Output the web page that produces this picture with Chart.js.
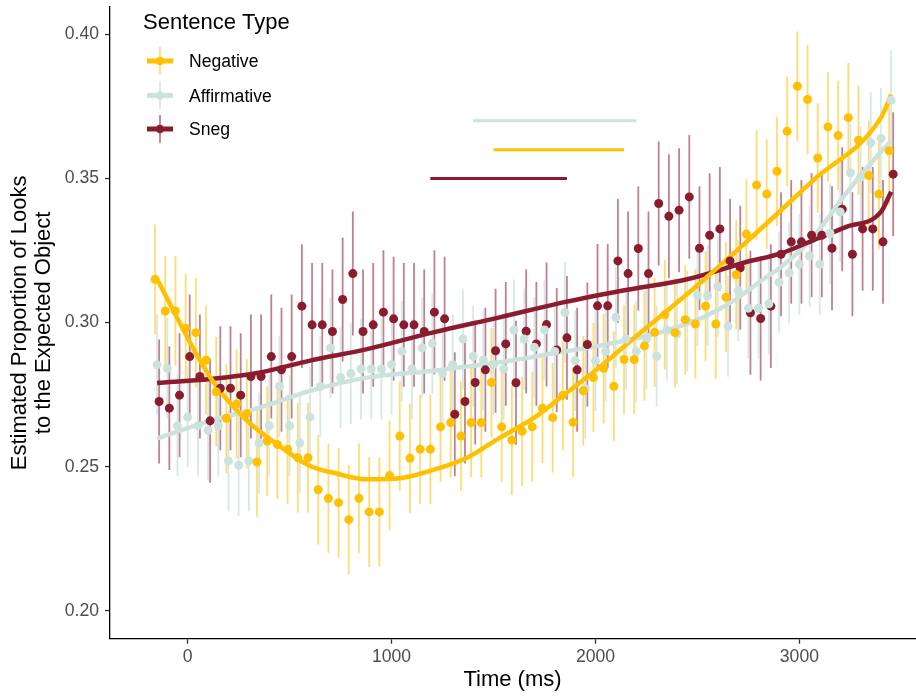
<!DOCTYPE html>
<html>
<head>
<meta charset="utf-8">
<script src="https://cdn.jsdelivr.net/npm/chart.js@4.4.1/dist/chart.umd.min.js"></script>
<style>
html,body{margin:0;padding:0;background:#ffffff;}
#wrap{width:916px;height:696px;}
canvas{display:block;}
</style>
</head>
<body>
<div id="wrap"><canvas id="c" width="916" height="696"></canvas></div>
<script>
// ---------- data ----------
const times = [-150,-100,-50,0,50,100,150,200,250,300,350,400,450,500,550,600,650,700,750,800,850,900,950,1000,1050,1100,1150,1200,1250,1300,1350,1400,1450,1500,1550,1600,1650,1700,1750,1800,1850,1900,1950,2000,2050,2100,2150,2200,2250,2300,2350,2400,2450,2500,2550,2600,2650,2700,2750,2800,2850,2900,2950,3000,3050,3100,3150,3200,3250,3300,3350,3400,3450];

const negative = [0.315,0.304,0.304,0.298,0.2965,0.287,0.276,0.2668,0.2717,0.2684,0.2516,0.2589,0.2577,0.256,0.2531,0.2531,0.242,0.239,0.2375,0.2316,0.239,0.2343,0.2343,0.2469,0.2606,0.2529,0.256,0.256,0.2638,0.2653,0.2606,0.2653,0.2653,0.2792,0.2638,0.2592,0.2623,0.2638,0.2703,0.267,0.2748,0.2654,0.2763,0.2809,0.2841,0.2779,0.2872,0.2872,0.2919,0.2966,0.3027,0.2965,0.301,0.2995,0.3057,0.2995,0.3088,0.3166,0.3307,0.3477,0.3446,0.3525,0.3664,0.382,0.3774,0.3571,0.3679,0.3649,0.3711,0.3633,0.351,0.3446,0.3596];

const affirmative = [0.2853,0.2841,0.2642,0.2672,0.2642,0.2626,0.2642,0.252,0.2505,0.252,0.2582,0.2642,0.2778,0.2642,0.2582,0.2672,0.2778,0.2912,0.2809,0.2823,0.2839,0.2839,0.2839,0.2854,0.29,0.2839,0.2912,0.2928,0.2823,0.2854,0.2943,0.2883,0.287,0.2854,0.2839,0.2974,0.2943,0.2914,0.2974,0.29,0.3035,0.2868,0.277,0.2868,0.29,0.3018,0.2943,0.29,0.2943,0.2883,0.2974,0.2961,0.3005,0.3094,0.3094,0.3125,0.2987,0.3111,0.305,0.305,0.3065,0.314,0.3172,0.3202,0.3231,0.3202,0.3309,0.3384,0.352,0.3505,0.3624,0.3639,0.3771];

const sneg = [0.2726,0.2703,0.2748,0.2882,0.2813,0.2659,0.2772,0.2772,0.2748,0.2813,0.2813,0.2882,0.2836,0.2882,0.3057,0.2992,0.2992,0.2969,0.308,0.317,0.2969,0.2992,0.3036,0.3013,0.2992,0.2992,0.2969,0.3036,0.3013,0.2682,0.2726,0.2792,0.2836,0.2902,0.2926,0.2791,0.297,0.2926,0.2993,0.2905,0.2947,0.2836,0.2924,0.3058,0.3058,0.3214,0.317,0.3257,0.317,0.3413,0.3369,0.339,0.3436,0.3258,0.3303,0.3325,0.3214,0.319,0.3034,0.3014,0.3057,0.3237,0.328,0.328,0.3303,0.3303,0.3258,0.3393,0.3237,0.3325,0.3325,0.328,0.3515];

// half-length of error bars (per series)
const negativeErr = 0.019;
const affirmativeErr = 0.0175;
const snegErr = 0.0215;

// smooth fitted curves
const negFitTimes = [-150,110,275,440,600,720,880,1050,1210,1370,1530,1700,1860,2020,2185,2470,2750,3070,3400,3450];
const negFitValues = [0.315,0.281,0.267,0.2577,0.2502,0.2478,0.2456,0.2461,0.249,0.2531,0.26,0.267,0.2757,0.2845,0.2944,0.3111,0.3286,0.3495,0.3711,0.3791];
const affFitTimes = [-150,110,355,600,880,1205,1530,1810,2020,2185,2350,2530,2680,2840,2905,3070,3230,3400,3450];
const affFitValues = [0.2598,0.2659,0.2705,0.2763,0.2809,0.2833,0.2862,0.2895,0.292,0.2943,0.2973,0.3019,0.3077,0.3159,0.319,0.3298,0.3449,0.3593,0.363];
const snegFitTimes = [-150,110,355,600,880,1205,1530,1810,2135,2460,2740,2905,3070,3230,3400,3450];
const snegFitValues = [0.279,0.2804,0.2827,0.2868,0.2908,0.2966,0.3018,0.3065,0.3111,0.3152,0.321,0.3239,0.3286,0.3332,0.3384,0.3454];

// significance windows
const affSigTimes = [1400, 2200]; const affSigLevel = 0.370;
const negSigTimes = [1500, 2140]; const negSigLevel = 0.360;
const snegSigTimes = [1190, 1860]; const snegSigLevel = 0.350;

const yTicks = [0.20, 0.25, 0.30, 0.35, 0.40];
const xTicks = [0, 1000, 2000, 3000];

// ---------- styles ----------
const FONT = '"Liberation Sans", Arial, Helvetica, sans-serif';
const COL = {
  neg: '#FFC000', negBar: 'rgba(255,192,0,0.55)',
  aff: '#CCE3DD', affBar: 'rgba(204,227,221,0.8)',
  sneg: '#8B1C30', snegBar: 'rgba(139,28,48,0.55)'
};
const DODGE = {neg: -10, aff: 0, sneg: 10};

const seriesList = [
  {key:'sneg', label:'Sneg', values: sneg, err: snegErr, color: COL.sneg, bar: COL.snegBar},
  {key:'aff', label:'Affirmative', values: affirmative, err: affirmativeErr, color: COL.aff, bar: COL.affBar},
  {key:'neg', label:'Negative', values: negative, err: negativeErr, color: COL.neg, bar: COL.negBar}
];

function pts(ts, vs, off) { return ts.map((t, i) => ({x: t + (off || 0), y: vs[i]})); }

const datasets = [];
let ord = 100;
// fitted lines (beneath points)
datasets.push({type:'line', label:'affFit', data: pts(affFitTimes, affFitValues), borderColor: COL.aff, borderWidth: 4.5, pointRadius: 0, cubicInterpolationMode: 'monotone', fill: false, order: ord--});
datasets.push({type:'line', label:'snegFit', data: pts(snegFitTimes, snegFitValues), borderColor: COL.sneg, borderWidth: 4.5, pointRadius: 0, cubicInterpolationMode: 'monotone', fill: false, order: ord--});
datasets.push({type:'line', label:'negFit', data: pts(negFitTimes, negFitValues), borderColor: COL.neg, borderWidth: 4.5, pointRadius: 0, cubicInterpolationMode: 'monotone', fill: false, order: ord--});
// significance bars
datasets.push({type:'line', label:'affSig', data: affSigTimes.map(t => ({x:t, y:affSigLevel})), borderColor: COL.aff, borderWidth: 3, pointRadius: 0, order: ord--});
datasets.push({type:'line', label:'negSig', data: negSigTimes.map(t => ({x:t, y:negSigLevel})), borderColor: COL.neg, borderWidth: 3, pointRadius: 0, order: ord--});
datasets.push({type:'line', label:'snegSig', data: snegSigTimes.map(t => ({x:t, y:snegSigLevel})), borderColor: COL.sneg, borderWidth: 3, pointRadius: 0, order: ord--});
// points
seriesList.forEach(s => {
  datasets.push({type:'scatter', label: s.label, data: pts(times, s.values, DODGE[s.key]), backgroundColor: s.color, borderWidth: 0, pointRadius: 4.5, pointHoverRadius: 4.5, showLine: false, order: ord--});
});

const errorBarPlugin = {
  id: 'errorBars',
  beforeDatasetsDraw(chart) {
    const {ctx, chartArea, scales: {x, y}} = chart;
    ctx.save();
    ctx.beginPath();
    ctx.rect(chartArea.left, chartArea.top, chartArea.right - chartArea.left, chartArea.bottom - chartArea.top);
    ctx.clip();
    ctx.lineWidth = 1.8;
    ctx.lineCap = 'butt';
    seriesList.forEach(s => {
      ctx.strokeStyle = s.bar;
      times.forEach((t, i) => {
        const px = x.getPixelForValue(t + DODGE[s.key]);
        const y1 = y.getPixelForValue(s.values[i] - s.err);
        const y2 = y.getPixelForValue(s.values[i] + s.err);
        ctx.beginPath();
        ctx.moveTo(px, y1);
        ctx.lineTo(px, y2);
        ctx.stroke();
      });
    });
    ctx.restore();
  }
};

const legendPlugin = {
  id: 'insideLegend',
  afterDraw(chart) {
    const ctx = chart.ctx;
    ctx.save();
    ctx.fillStyle = '#000';
    ctx.textAlign = 'left';
    ctx.textBaseline = 'alphabetic';
    ctx.font = '22px ' + FONT;
    ctx.fillText('Sentence Type', 143, 29.3);
    const entries = [
      {label:'Negative', color: COL.neg, bar: COL.negBar, y: 61},
      {label:'Affirmative', color: COL.aff, bar: COL.affBar, y: 95.5},
      {label:'Sneg', color: COL.sneg, bar: COL.snegBar, y: 129}
    ];
    entries.forEach(e => {
      ctx.strokeStyle = e.bar; ctx.lineWidth = 1.8;
      ctx.beginPath(); ctx.moveTo(160, e.y - 14); ctx.lineTo(160, e.y + 14); ctx.stroke();
      ctx.strokeStyle = e.color; ctx.lineWidth = 5;
      ctx.beginPath(); ctx.moveTo(147, e.y); ctx.lineTo(173, e.y); ctx.stroke();
      ctx.fillStyle = e.color;
      ctx.beginPath(); ctx.arc(160, e.y, 4.2, 0, Math.PI * 2); ctx.fill();
      ctx.fillStyle = '#000';
      ctx.font = '17.6px ' + FONT;
      ctx.fillText(e.label, 189, e.y + 6);
    });
    ctx.restore();
  }
};

new Chart(document.getElementById('c'), {
  data: {datasets},
  options: {
    responsive: false,
    animation: false,
    events: [],
    layout: {autoPadding: false, padding: {top: 7, right: 1, left: 0, bottom: 0}},
    plugins: {legend: {display: false}, tooltip: {enabled: false}, title: {display: false}},
    scales: {
      x: {
        type: 'linear', min: -381, max: 3567,
        afterFit(s) { s.height = 57.3; s.paddingLeft = 0; s.paddingRight = 0; },
        afterBuildTicks(s) { s.ticks = xTicks.map(v => ({value: v})); },
        ticks: {autoSkip: false, maxRotation: 0, padding: 3, color: '#4D4D4D', font: {family: FONT, size: 17.6}, callback: v => String(v)},
        grid: {display: true, drawOnChartArea: false, drawTicks: true, tickLength: 5, tickColor: '#333333', tickWidth: 1.3},
        border: {display: true, color: '#000000', width: 1.3},
        title: {display: true, text: 'Time (ms)', color: '#000', font: {family: FONT, size: 22, lineHeight: 1.1}, padding: {top: 0, bottom: 4}}
      },
      y: {
        type: 'linear', min: 0.1903, max: 0.4095,
        afterFit(s) { s.width = 110; s.paddingTop = 0; s.paddingBottom = 0; },
        afterBuildTicks(s) { s.ticks = yTicks.map(v => ({value: v})); },
        ticks: {autoSkip: false, padding: 6, color: '#4D4D4D', font: {family: FONT, size: 17.6}, callback: v => v.toFixed(2)},
        grid: {display: true, drawOnChartArea: false, drawTicks: true, tickLength: 5, tickColor: '#333333', tickWidth: 1.3},
        border: {display: true, color: '#000000', width: 1.3},
        title: {display: true, text: ['Estimated Proportion of Looks', 'to the Expected Object'], color: '#000', font: {family: FONT, size: 22, lineHeight: 1.1}, padding: {top: 8, bottom: 0}}
      }
    }
  },
  plugins: [errorBarPlugin, legendPlugin]
});
</script>
</body>
</html>
